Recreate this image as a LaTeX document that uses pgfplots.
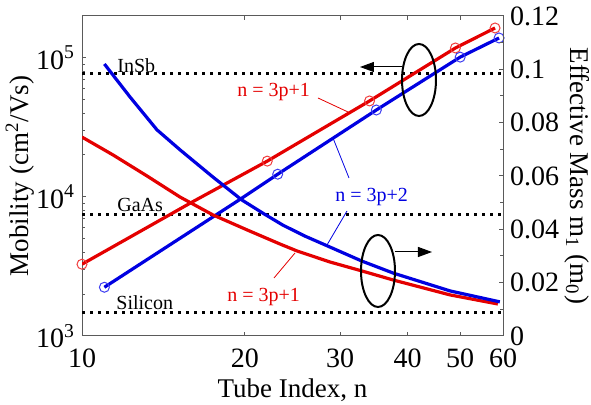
\documentclass[border=0pt]{standalone}
\usepackage{pgfplots}
\pgfplotsset{compat=1.18}
\usepackage{fontspec}
\setmainfont{Liberation Serif}
\usetikzlibrary{arrows.meta}
\definecolor{cred}{RGB}{228,0,0}
\definecolor{cblue}{RGB}{0,0,225}
\definecolor{mred}{RGB}{240,60,60}
\definecolor{mblue}{RGB}{60,60,240}
\definecolor{framec}{RGB}{90,90,90}
\begin{document}
\begin{tikzpicture}
\begin{axis}[
  scale only axis, width=210.5pt, height=160pt,
  at={(0,0)}, anchor=south west,
  xmode=log, xmin=10, xmax=60,
  axis line style={framec, line width=0.5pt},
  major tick style={framec, line width=0.5pt},
  minor tick style={framec, line width=0.5pt},
  major tick length=2pt, minor tick length=1.6pt,
  tick align=inside,
  /pgf/number format/assume math mode=true,
  tick label style={font=\fontsize{14}{14}\selectfont},
  xticklabel style={yshift=-3pt},
  label style={font=\fontsize{13.5}{14}\selectfont},
  ymode=log, ymin=1000, ymax=199526,
  xtick={10,20,30,40,50,60}, xticklabels={10,20,30,40,50,60},
  minor xtick={},
  xtick pos=both,
  ytick={1000,10000,100000},
  yticklabels={10\textsuperscript{3},10\textsuperscript{4},10\textsuperscript{5}},
  minor ytick={2000,3000,4000,5000,6000,7000,8000,9000,20000,30000,40000,50000,60000,70000,80000,90000},
  ytick pos=left,
  xlabel={Tube Index, n},
  ylabel={Mobility (cm\textsuperscript{2}/Vs)},
  xlabel style={at={(axis description cs:0.5,-0.168)}, anchor=center},
  ylabel style={at={(axis description cs:-0.147,0.5)}, anchor=center},
]
\addplot[black, line width=1.3pt, dash pattern=on 1.3pt off 2.7pt] coordinates {(10,77000) (60,77000)};
\addplot[black, line width=1.3pt, dash pattern=on 1.3pt off 2.7pt] coordinates {(10,7500) (60,7500)};
\addplot[black, line width=1.3pt, dash pattern=on 1.3pt off 2.7pt] coordinates {(10,1470) (60,1470)};
\addplot[cred, line width=1.6pt] coordinates {(10,3280) (16,9200) (22,18070) (34,48900) (49,117500) (58,163600)};
\addplot[only marks, mark=o, mark size=2.5pt, mred, mark options={line width=0.5pt}] coordinates {(10,3280) (22,18070) (34,48900) (49,117500) (58,163600)};
\addplot[cblue, line width=1.6pt] coordinates {(11,2240) (19.6,9600) (23,14550) (35,42100) (50,101000) (59,138700)};
\addplot[only marks, mark=o, mark size=2.5pt, mblue, mark options={line width=0.5pt}] coordinates {(11,2240) (23,14550) (35,42100) (50,101000) (59,138700)};
\end{axis}
\begin{axis}[
  scale only axis, width=210.5pt, height=160pt,
  at={(0,0)}, anchor=south west,
  xmode=log, xmin=10, xmax=60,
  axis line style={framec, line width=0.5pt},
  major tick style={framec, line width=0.5pt},
  minor tick style={framec, line width=0.5pt},
  major tick length=2pt, minor tick length=1.6pt,
  tick align=inside,
  /pgf/number format/assume math mode=true,
  tick label style={font=\fontsize{14}{14}\selectfont},
  label style={font=\fontsize{13.5}{14}\selectfont},
  ymin=0, ymax=0.12,
  hide x axis,
  axis y line*=right,
  ytick={0,0.02,0.04,0.06,0.08,0.1,0.12},
  yticklabels={0,0.02,0.04,0.06,0.08,0.1,0.12},
  minor ytick={0.01,0.03,0.05,0.07,0.09,0.11},
  ylabel={Effective Mass m\textsubscript{1} (m\textsubscript{0})},
  ylabel style={at={(axis description cs:1.176,0.5)}, anchor=center, rotate=180},
]
\addplot[cred, line width=1.6pt] coordinates {(10,0.0746) (11.41,0.0679) (13.19,0.0600) (15.18,0.0521) (17.46,0.0454) (20.18,0.0398) (23.22,0.0345) (24.96,0.0319) (28.73,0.02775) (32.9,0.0244) (37.6,0.0210) (47.9,0.0154) (58.7,0.0120)};
\addplot[cblue, line width=1.6pt] coordinates {(11,0.1020) (12.27,0.0896) (13.76,0.0773) (15.18,0.0698) (17.46,0.0596) (19.75,0.0510) (21.7,0.0458) (23.5,0.0416) (25.8,0.0375) (28.4,0.0338) (32.9,0.0281) (37.6,0.0236) (47.9,0.0169) (59.2,0.0128)};
\end{axis}
\begin{scope}[font=\fontsize{10}{12}\selectfont]
\node[anchor=base west, inner sep=0] at (17.5pt,131.5pt) {InSb};
\node[anchor=base west, inner sep=0] at (17.5pt,62pt) {GaAs};
\node[anchor=base west, inner sep=0] at (17pt,13pt) {Silicon};
\node[anchor=base west, inner sep=0, text=cred] at (77.5pt,119.5pt) {n = 3p+1};
\draw[cred, line width=0.4pt] (118pt,119pt) -- (133pt,112pt);
\node[anchor=base west, inner sep=0, text=cblue] at (126.5pt,67pt) {n = 3p+2};
\draw[cblue, line width=0.4pt] (133.5pt,79pt) -- (125.5pt,99pt);
\draw[cblue, line width=0.4pt] (132.5pt,62.5pt) -- (122.5pt,45.5pt);
\node[anchor=base west, inner sep=0, text=cred] at (72.5pt,17pt) {n = 3p+1};
\draw[cred, line width=0.4pt] (96pt,29pt) -- (106.5pt,41.5pt);
\end{scope}
\draw[black, line width=1pt] (168.5pt,128pt) ellipse [x radius=8.5pt, y radius=18pt];
\draw[black, line width=0.5pt, -{Triangle[length=7pt,width=5pt]}] (160pt,134.5pt) -- (139pt,134.5pt);
\draw[black, line width=1pt] (148pt,32.5pt) ellipse [x radius=8.5pt, y radius=18pt];
\draw[black, line width=0.5pt, -{Triangle[length=7pt,width=5pt]}] (156.5pt,42pt) -- (175pt,42pt);
\pgfresetboundingbox
\path (-41pt,-34.5pt) rectangle (254.5pt,168pt);
\end{tikzpicture}
\end{document}
